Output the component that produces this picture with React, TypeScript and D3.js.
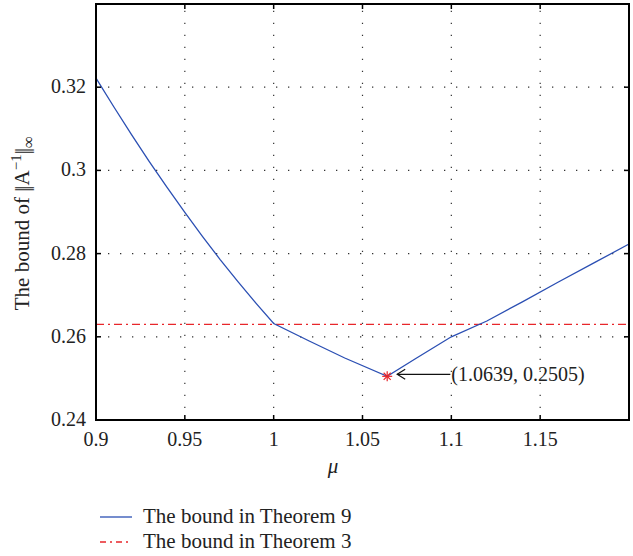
import * as d3 from "d3";
import { useEffect, useRef } from "react";

// mu values and bound from Theorem 9
const mu = [0.9, 0.91, 0.92, 0.93, 0.94, 0.95, 0.96, 0.97, 0.98, 0.99, 1.0, 1.02, 1.04, 1.0639, 1.08, 1.1, 1.12, 1.14, 1.16, 1.18, 1.2];
const boundT9 = [0.3222, 0.3153, 0.3086, 0.3021, 0.2959, 0.2899, 0.2841, 0.2785, 0.2732, 0.2681, 0.2632, 0.259, 0.2549, 0.2505, 0.2548, 0.26, 0.2638, 0.2684, 0.2731, 0.2777, 0.2823];
const boundT3 = 0.263;
const minPoint = [1.0639, 0.2505];
const minLabel = "(1.0639, 0.2505)";

const xTicks = [0.9, 0.95, 1, 1.05, 1.1, 1.15];
const xTickLabels = ["0.9", "0.95", "1", "1.05", "1.1", "1.15"];
const yTicks = [0.24, 0.26, 0.28, 0.3, 0.32];
const yTickLabels = ["0.24", "0.26", "0.28", "0.3", "0.32"];
const legendLabels = ["The bound in Theorem 9", "The bound in Theorem 3"];

const W = 633;
const H = 556;
const FONT = "Liberation Serif, DejaVu Serif, serif";

export default function App() {
  const ref = useRef<SVGSVGElement>(null);

  useEffect(() => {
    const svg = d3.select(ref.current);
    svg.selectAll("*").remove();

    const left = 96, right = 629, top = 4, bottom = 420;
    const x = d3.scaleLinear().domain([0.9, 1.2]).range([left, right]);
    const y = d3.scaleLinear().domain([0.24, 0.34]).range([bottom, top]);

    // grid
    const grid = svg.append("g").attr("stroke", "#333").attr("stroke-width", 1.2).attr("stroke-dasharray", "1.3,10.7");
    xTicks.slice(1).forEach((t) => {
      grid.append("line").attr("x1", x(t)).attr("x2", x(t)).attr("y1", bottom).attr("y2", top);
    });
    yTicks.slice(1).forEach((t) => {
      grid.append("line").attr("x1", left).attr("x2", right).attr("y1", y(t)).attr("y2", y(t));
    });

    // Theorem 3 bound (dash-dot red)
    svg.append("line")
      .attr("x1", left).attr("x2", right)
      .attr("y1", y(boundT3)).attr("y2", y(boundT3))
      .attr("stroke", "#e8262b").attr("stroke-width", 1.3)
      .attr("stroke-dasharray", "8,4,2,4");

    // Theorem 9 bound
    const line = d3.line<number>().x((_, i) => x(mu[i])).y((d) => y(d));
    svg.append("path")
      .attr("d", line(boundT9))
      .attr("fill", "none")
      .attr("stroke", "#2b4fb3")
      .attr("stroke-width", 1.3);

    // minimum marker (asterisk)
    const px = x(minPoint[0]), py = y(minPoint[1]);
    const star = svg.append("g").attr("stroke", "#e8262b").attr("stroke-width", 1.2);
    const r = 5;
    [0, 45, 90, 135].forEach((a) => {
      const rad = (a * Math.PI) / 180;
      star.append("line")
        .attr("x1", px - r * Math.cos(rad)).attr("y1", py - r * Math.sin(rad))
        .attr("x2", px + r * Math.cos(rad)).attr("y2", py + r * Math.sin(rad));
    });

    // annotation
    const tx = x(1.1);
    const ax = px + 10;
    const ann = svg.append("g").attr("stroke", "#111").attr("stroke-width", 1.2).attr("fill", "none");
    ann.append("line").attr("x1", tx - 1).attr("x2", ax).attr("y1", py - 2).attr("y2", py - 2);
    ann.append("path").attr("d", `M${ax + 8},${py - 7} L${ax},${py - 2} L${ax + 8},${py + 3}`);
    svg.append("text")
      .attr("x", tx).attr("y", py + 5)
      .attr("font-family", FONT).attr("font-size", 20).attr("fill", "#222")
      .text(minLabel);

    // axes box
    svg.append("rect")
      .attr("x", left).attr("y", top).attr("width", right - left).attr("height", bottom - top)
      .attr("fill", "none").attr("stroke", "#000").attr("stroke-width", 2);

    const ticks = svg.append("g").attr("stroke", "#000").attr("stroke-width", 1.5);
    xTicks.forEach((t) => {
      ticks.append("line").attr("x1", x(t)).attr("x2", x(t)).attr("y1", bottom).attr("y2", bottom - 5);
      ticks.append("line").attr("x1", x(t)).attr("x2", x(t)).attr("y1", top).attr("y2", top + 5);
    });
    yTicks.forEach((t) => {
      ticks.append("line").attr("x1", left).attr("x2", left + 5).attr("y1", y(t)).attr("y2", y(t));
      ticks.append("line").attr("x1", right).attr("x2", right - 5).attr("y1", y(t)).attr("y2", y(t));
    });

    // tick labels
    svg.append("g").selectAll("text").data(xTicks).enter().append("text")
      .attr("x", (d) => x(d)).attr("y", 446)
      .attr("text-anchor", "middle")
      .attr("font-family", FONT).attr("font-size", 20).attr("fill", "#222")
      .text((_, i) => xTickLabels[i]);
    svg.append("g").selectAll("text").data(yTicks).enter().append("text")
      .attr("x", 86).attr("y", (d) => y(d) + 6)
      .attr("text-anchor", "end")
      .attr("font-family", FONT).attr("font-size", 20).attr("fill", "#222")
      .text((_, i) => yTickLabels[i]);

    // x label
    svg.append("text")
      .attr("x", 333).attr("y", 473)
      .attr("text-anchor", "middle")
      .attr("font-family", FONT).attr("font-size", 21).attr("font-style", "italic").attr("fill", "#222")
      .text("μ");

    // y label
    const yl = svg.append("text")
      .attr("transform", "translate(29,223) rotate(-90)")
      .attr("text-anchor", "middle")
      .attr("font-family", FONT).attr("font-size", 21).attr("fill", "#222");
    yl.append("tspan").text("The bound of ");
    yl.append("tspan").attr("letter-spacing", -2).text("||");
    yl.append("tspan").attr("dx", 2).text("A");
    yl.append("tspan").attr("dy", -8).attr("font-size", 15).text("\u22121");
    yl.append("tspan").attr("dy", 8).attr("letter-spacing", -2).text("||");
    yl.append("tspan").attr("dx", 2).attr("dy", 5).attr("font-size", 17).text("\u221E");

    // legend
    const lg = svg.append("g");
    lg.append("line").attr("x1", 100).attr("x2", 132).attr("y1", 517).attr("y2", 517)
      .attr("stroke", "#2b4fb3").attr("stroke-width", 1.3);
    lg.append("line").attr("x1", 100).attr("x2", 132).attr("y1", 542).attr("y2", 542)
      .attr("stroke", "#e8262b").attr("stroke-width", 1.3).attr("stroke-dasharray", "6,4,2,4");
    lg.selectAll("text").data(legendLabels).enter().append("text")
      .attr("x", 143).attr("y", (_, i) => 523 + i * 25)
      .attr("font-family", FONT).attr("font-size", 21).attr("fill", "#222")
      .text((d) => d);
  }, []);

  return (
    <svg
      ref={ref}
      width={W}
      height={H}
      style={{ position: "absolute", left: 0, top: 0, background: "#fff" }}
    />
  );
}
